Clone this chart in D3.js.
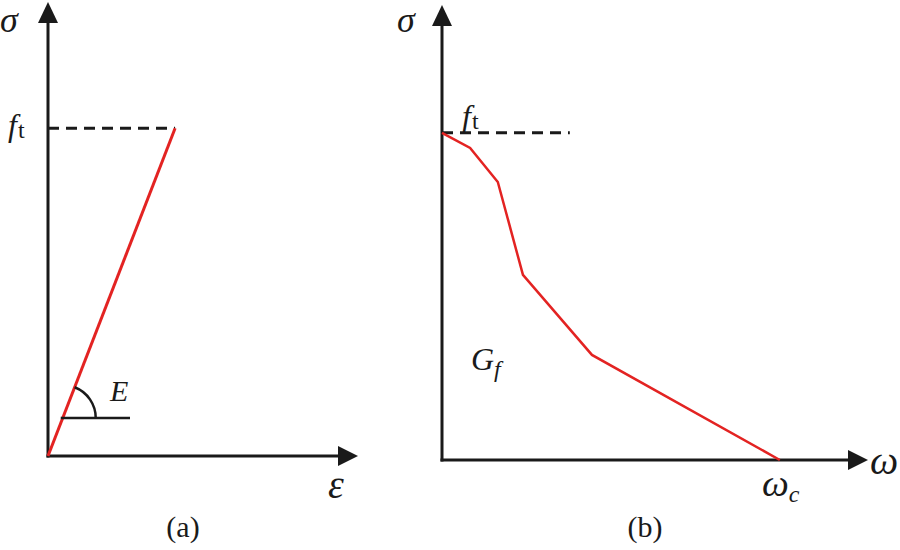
<!DOCTYPE html>
<html><head><meta charset="utf-8">
<script src="https://cdn.jsdelivr.net/npm/d3@7"></script>
<style>body{margin:0;background:#fff}svg{display:block}</style>
</head><body><svg id="c" width="900" height="550"></svg>
<script>
// Panel (a): linear elastic stress-strain
const strainA = [0, 4.1];
const stressA = [0, 7.22];
const ftA = 7.22;
// Panel (b): softening stress - crack opening
const crackW = [0, 0.66, 1.31, 1.90, 3.52, 7.93];
const stressB = [7.19, 6.86, 6.11, 4.07, 2.31, 0];
const ftB = 7.19;
const ftDashEndB = 3.0;

const FONT = "'Liberation Serif', 'Times New Roman', 'DejaVu Serif', serif";
const svg = d3.select("#c");
const black = "#1a1a1a", red = "#e32322";
function txt(g, x, y, size){
  return g.append("text").attr("x",x).attr("y",y).attr("font-size",size)
    .attr("font-family",FONT).attr("fill",black);
}
function arrowHead(g, pts){
  g.append("path").attr("d","M"+pts.map(p=>p.join(",")).join("L")+"Z").attr("fill",black);
}

// ---- panel a
const xa = d3.scaleLinear().domain([0,10]).range([48,358]);
const ya = d3.scaleLinear().domain([0,10]).range([456,2]);
const ga = svg.append("g");
ga.append("line").attr("x1",xa(0)).attr("x2",xa(0)).attr("y1",ya(0)+1.5).attr("y2",ya(9.6))
  .attr("stroke",black).attr("stroke-width",3);
arrowHead(ga,[[xa(0),ya(10)],[xa(0)-10,ya(10)+21],[xa(0)+10,ya(10)+21]]);
ga.append("line").attr("x1",xa(0)-1.5).attr("x2",xa(9.5)).attr("y1",ya(0)).attr("y2",ya(0))
  .attr("stroke",black).attr("stroke-width",3);
arrowHead(ga,[[xa(10),ya(0)],[xa(10)-20,ya(0)-10],[xa(10)-20,ya(0)+10]]);
ga.append("line").attr("x1",xa(0)).attr("x2",xa(strainA[1])).attr("y1",ya(ftA)).attr("y2",ya(ftA))
  .attr("stroke",black).attr("stroke-width",3).attr("stroke-dasharray","11,7");
ga.append("path").datum(strainA.map((s,i)=>[s,stressA[i]]))
  .attr("d",d3.line().x(d=>xa(d[0])).y(d=>ya(d[1]))).attr("fill","none").attr("stroke",red).attr("stroke-width",3);
// angle marker
const cy = 418, cx = xa(0) + (ya(0)-cy)/(ya(0)-ya(ftA))*(xa(strainA[1])-xa(0));
const ang = Math.atan2(ya(0)-ya(ftA), xa(strainA[1])-xa(0));
const r = 33;
ga.append("line").attr("x1",cx-2).attr("x2",130).attr("y1",cy).attr("y2",cy).attr("stroke",black).attr("stroke-width",2.5);
ga.append("path").attr("d",`M${cx+r*Math.cos(ang)},${cy-r*Math.sin(ang)} A${r},${r} 0 0 1 ${cx+r},${cy}`)
  .attr("fill","none").attr("stroke",black).attr("stroke-width",2.5);
txt(ga,0,32,36).attr("font-style","italic").text("σ");
const fta = txt(ga,8,ya(ftA)+8,32);
fta.append("tspan").attr("font-style","italic").text("f");
fta.append("tspan").attr("font-size",24).attr("dx",1).attr("dy",2).text("t");
txt(ga,110,401,30).attr("font-style","italic").text("E");
txt(ga,328,498,40).attr("font-style","italic").text("ε");
txt(ga,183,537,30).attr("text-anchor","middle").text("(a)");

// ---- panel b
const xb = d3.scaleLinear().domain([0,10]).range([442,868]);
const yb = d3.scaleLinear().domain([0,10]).range([460,5]);
const gb = svg.append("g");
gb.append("line").attr("x1",xb(0)).attr("x2",xb(0)).attr("y1",yb(0)+1.5).attr("y2",yb(9.6))
  .attr("stroke",black).attr("stroke-width",3);
arrowHead(gb,[[xb(0),yb(10)],[xb(0)-10,yb(10)+21],[xb(0)+10,yb(10)+21]]);
gb.append("line").attr("x1",xb(0)-1.5).attr("x2",xb(9.6)).attr("y1",yb(0)).attr("y2",yb(0))
  .attr("stroke",black).attr("stroke-width",3);
arrowHead(gb,[[xb(10),yb(0)],[xb(10)-20,yb(0)-10],[xb(10)-20,yb(0)+10]]);
gb.append("line").attr("x1",xb(0)).attr("x2",xb(ftDashEndB)).attr("y1",yb(ftB)).attr("y2",yb(ftB))
  .attr("stroke",black).attr("stroke-width",3).attr("stroke-dasharray","11,7");
gb.append("path").datum(crackW.map((w,i)=>[w,stressB[i]]))
  .attr("d",d3.line().x(d=>xb(d[0])).y(d=>yb(d[1]))).attr("fill","none").attr("stroke",red).attr("stroke-width",2.5);
txt(gb,397,32,36).attr("font-style","italic").text("σ");
const ftb = txt(gb,462,127,32);
ftb.append("tspan").attr("font-style","italic").text("f");
ftb.append("tspan").attr("font-size",24).attr("dx",1).attr("dy",2).text("t");
const gf = txt(gb,471,370,32);
gf.append("tspan").attr("font-style","italic").text("G");
gf.append("tspan").attr("font-style","italic").attr("font-size",24).attr("dy",7).text("f");
txt(gb,870,474,40).attr("font-style","italic").text("ω");
const wc = txt(gb,762,496,38);
wc.append("tspan").attr("font-style","italic").text("ω");
wc.append("tspan").attr("font-style","italic").attr("font-size",24).attr("dy",6).text("c");
txt(gb,645,537,30).attr("text-anchor","middle").text("(b)");
</script></body></html>
